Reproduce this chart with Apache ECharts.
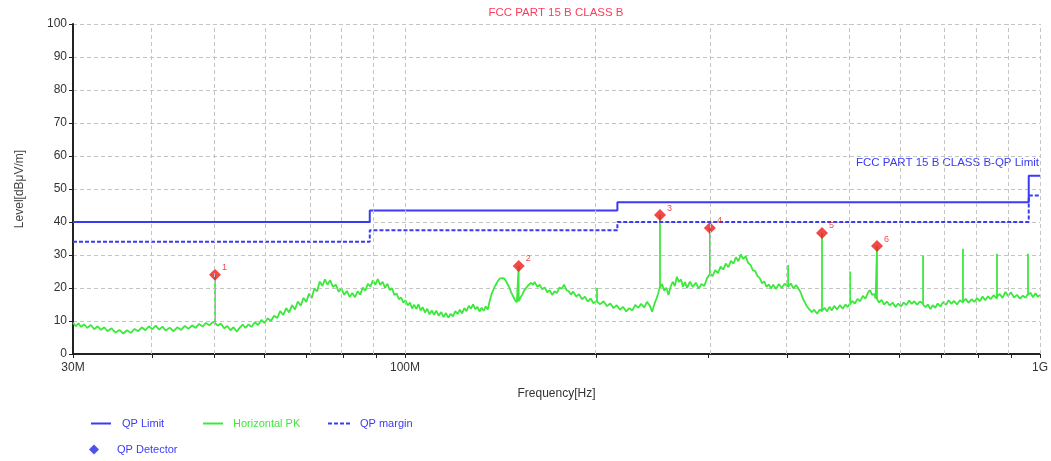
<!DOCTYPE html>
<html><head><meta charset="utf-8">
<script src="https://cdn.jsdelivr.net/npm/echarts@6/dist/echarts.min.js"></script>
<style>html,body{margin:0;padding:0;background:#fff}#c{width:1051px;height:461px}</style>
</head><body><div id="c"></div>
<script>
const titleText = 'FCC PART 15 B CLASS B';
const limitLabel = 'FCC PART 15 B CLASS B-QP Limit';
const xTickFreq = [30,40,50,60,70,80,90,100,200,300,400,500,600,700,800,900,1000];
const xLabelFreq = [30,100,1000];
const xLabelText = ['30M','100M','1G'];
const yMin = 0, yMax = 100, yStep = 10;
const limitFreq  = [30,88,88,216,216,960,960,1000];
const limitLevel = [40,40,43.5,43.5,46,46,54,54];
const marginLevel = [34,34,37.5,37.5,40,40,48,48];
const detectorFreq  = [50.2,151,252.1,302.1,453.6,553.7];
const detectorLevel = [24,26.7,42.1,38.2,36.7,32.7];
const detectorNo    = ['1','2','3','4','5','6'];
const pkTrace = [
[30,9.5],[30.3,8.4],[30.6,9.3],[30.9,8.2],[31.2,9.0],[31.6,7.9],[32,8.8],[32.4,7.5],[32.8,8.4],[33.2,7.3],[33.6,8.1],[34,6.9],[34.5,7.8],[35,6.5],[35.5,7.3],[36,6.2],[36.5,7.2],[37,6.4],[37.5,7.6],[38,6.9],[38.5,8.1],[39,7.2],[39.5,8.4],[40,7.5],[40.5,8.6],[41,7.4],[41.5,8.3],[42,7.1],[42.6,8.0],[43.2,6.9],[43.8,8.1],[44.4,7.3],[45,8.5],[45.6,7.6],[46.2,8.7],[46.8,7.9],[47.4,9.1],[48,8.3],[48.6,9.4],[49.2,8.7],[49.8,9.7],[50.2,9.4],[50.2,24],[50.2,9.4],[50.7,8.6],[51.3,9.2],[51.9,7.8],[52.5,8.5],[53.1,7.2],[53.7,8.1],[54.3,6.8],[54.9,7.9],[55.5,8.9],[56.1,7.9],[56.7,9.0],[57.3,8.2],[58,9.6],[58.7,8.8],[59.4,10.3],[60.1,9.4],[60.8,10.8],[61.5,10.0],[62.2,11.6],[62.9,10.9],[63.6,13.0],[64.3,11.8],[65,13.9],[65.7,12.6],[66.4,14.8],[67.1,13.5],[67.8,15.9],[68.5,14.6],[69.2,17.0],[69.9,15.8],[70.6,18.3],[71.3,17.0],[72,19.9],[72.7,19.0],[73.4,22.0],[74.1,20.6],[74.8,22.6],[75.5,21.0],[76.2,22.4],[77,20.3],[77.8,21.0],[78.6,18.9],[79.4,19.8],[80.2,17.9],[81,19.1],[81.8,17.3],[82.6,18.5],[83.4,17.2],[84.2,19.0],[85,18.0],[85.8,20.1],[86.6,19.2],[87.4,21.3],[88.2,20.4],[89,22.3],[89.8,21.0],[90.6,22.7],[91.4,20.9],[92.2,21.9],[93,20.1],[93.8,21.3],[94.6,19.4],[95.4,19.9],[96.2,17.9],[97,18.3],[97.8,16.6],[98.6,17.1],[99.4,15.6],[100.2,16.2],[101,14.7],[101.8,15.6],[102.6,13.8],[103.4,14.9],[104.2,13.6],[105,15.1],[105.8,13.2],[106.6,14.2],[107.5,12.6],[108.4,13.7],[109.3,12.0],[110.2,13.2],[111.1,11.9],[112,13.1],[113,11.6],[114,12.7],[115,11.2],[116,12.4],[117,11.0],[118,12.2],[119,11.4],[120,13.0],[121,12.1],[122,13.4],[123,12.3],[124,13.9],[125,13.0],[126,14.6],[127,13.8],[128,15.0],[129,13.6],[130,14.3],[131,12.9],[132,14.0],[133,13.1],[134,14.4],[135,13.5],[136,16.2],[137,18.4],[138,19.8],[139,21.0],[140,22.1],[141,22.9],[142,23.4],[143,23.0],[144,22.3],[145,21.2],[146,20.1],[147,18.6],[148,17.5],[149,16.3],[150,15.6],[151,16.0],[151,26.7],[151,16.0],[152,17.1],[153,18.0],[154,19.2],[155,19.6],[156,20.6],[157,20.1],[158,21.6],[159,20.9],[160,21.8],[161.5,20.4],[163,21.0],[164.5,19.6],[166,20.2],[167.5,18.7],[169,19.3],[170.5,17.9],[172,19.0],[173.5,18.5],[175,20.1],[176.5,19.8],[178,21.0],[179.5,19.4],[181,19.0],[182.5,18.0],[184,18.9],[186,17.4],[188,18.1],[190,16.6],[192,17.4],[194,15.9],[196,16.8],[198,15.4],[200.6,16.2],[200.6,20],[200.6,15.8],[203,15.1],[205.5,16.0],[208,14.5],[210.5,15.3],[213,13.9],[215.5,14.8],[218,13.4],[220.5,14.3],[223,12.9],[225.5,13.9],[228,13.2],[230.5,14.9],[233,14.0],[235.5,15.2],[238,14.1],[240.5,15.8],[243,14.6],[245,12.8],[247,15.1],[249,16.9],[250.5,18.4],[252.1,20.5],[252.1,42.1],[252.1,20.0],[254,21.2],[256,19.2],[258,20.1],[260,17.9],[262,20.4],[264,21.9],[266,20.6],[268,23.4],[270,21.8],[272,22.6],[274,20.4],[276,21.8],[278,20.0],[281,21.9],[284,20.3],[287,21.6],[290,19.8],[293,21.2],[296,20.6],[299,23.0],[302.1,24.2],[302.1,38.2],[302.1,24.5],[305,23.6],[308,25.4],[311,24.5],[314,26.5],[317,25.6],[320,27.4],[323,26.3],[326,28.2],[329,27.4],[332,29.3],[335,28.1],[338,30.2],[341,28.8],[344,29.6],[347,27.6],[350,27.0],[353,25.4],[356,25.1],[359,23.6],[362,23.0],[365,21.4],[368,22.0],[371,20.3],[374,21.1],[377,19.8],[380,21.0],[384,19.7],[388,21.2],[392,20.0],[396,21.3],[401.2,20.4],[401.2,27],[401.2,20.2],[405,21.4],[409,19.9],[413,20.9],[417,19.6],[420,18.6],[423,16.9],[426,15.8],[429.6,14.4],[433,13.6],[437,12.7],[441,13.4],[445.5,12.2],[450,13.5],[453.6,12.9],[453.6,36.7],[453.6,13.1],[458,14.0],[462,12.9],[466,14.3],[470,13.2],[474,14.6],[479,13.5],[484,14.8],[489,13.7],[494,15.0],[498,14.2],[502.2,15.4],[502.2,25],[502.2,15.0],[506,16.1],[511,15.3],[516,16.7],[521,16.0],[526,17.6],[531,16.8],[536,18.6],[540,19.4],[544,17.9],[548,18.2],[551,16.8],[553.7,17.2],[553.7,32.7],[553.7,16.6],[558,15.6],[563,16.4],[568,15.0],[574,15.9],[580,14.7],[586,15.6],[592,14.2],[598,15.3],[604,14.4],[610,15.6],[616,14.8],[622,16.2],[628,15.2],[634,16.0],[640,14.9],[647,15.9],[654.4,15.2],[654.4,29.8],[654.4,15.0],[660,14.2],[666,15.0],[672,13.6],[678,14.8],[684,14.0],[690,15.3],[697,14.4],[704,15.8],[711,14.9],[718,16.3],[725,15.2],[732,16.1],[740,15.0],[748,16.3],[756.3,15.6],[756.3,31.9],[756.3,15.9],[764,16.7],[772,15.5],[780,16.6],[788,15.8],[796,16.9],[804,16.0],[812,17.4],[820,16.3],[828,17.5],[836,16.6],[845,17.8],[855.6,16.8],[855.6,30.4],[855.6,17.3],[864,18.2],[873,17.0],[882,18.8],[891,17.6],[900,18.7],[910,17.1],[920,17.9],[930,16.8],[940,17.7],[949,17.0],[957.4,18.2],[957.4,30.4],[957.4,17.9],[966,18.6],[975,17.2],[984,18.4],[992,17.3],[1000,17.9]
];

const lg = Math.log10;
const BLUE = '#3b3bf5', GREEN = '#3de83d', RED = '#ee1c1c';
const FONT = '"Liberation Sans", Arial, sans-serif';
const SOLID_ICON = 'path://M0,0h20v2h-20z';
const DASH_ICON = 'path://M0,0h4v2h-4z M6,0h4v2h-4z M12,0h4v2h-4z M18,0h4v2h-4z';

const chart = echarts.init(document.getElementById('c'), null, {renderer: 'canvas'});
chart.setOption({
  animation: false,
  backgroundColor: '#fff',
  grid: {left: 73, right: 11, top: 24, bottom: 107, containLabel: false},
  graphic: [
    {type: 'text', x: 556, y: 7, style: {text: titleText, fill: '#ff3c5a', font: '11.5px ' + FONT, textAlign: 'center'}},
    {type: 'text', x: 1039, y: 157, style: {text: limitLabel, fill: BLUE, font: '11.5px ' + FONT, textAlign: 'right'}}
  ],
  xAxis: {
    type: 'value', min: lg(30), max: lg(1000),
    name: 'Frequency[Hz]', nameLocation: 'middle', nameGap: 34,
    nameTextStyle: {color: '#333', fontSize: 12, fontFamily: FONT},
    axisLine: {show: true, onZero: false, lineStyle: {color: '#222', width: 2}},
    axisTick: {show: true, customValues: xTickFreq.map(lg), length: 4, lineStyle: {color: '#222'}},
    axisLabel: {customValues: xLabelFreq.map(lg), color: '#333', fontSize: 12, fontFamily: FONT, margin: 8,
      formatter: v => { const f = Math.round(Math.pow(10, v)); const i = xLabelFreq.indexOf(f); return i >= 0 ? xLabelText[i] : ''; }},
    splitLine: {show: false}
  },
  yAxis: {
    type: 'value', min: yMin, max: yMax, interval: yStep,
    name: 'Level[dBμV/m]', nameLocation: 'middle', nameGap: 47,
    nameTextStyle: {color: '#444', fontSize: 12, fontFamily: FONT},
    axisLine: {show: true, lineStyle: {color: '#222', width: 2}},
    axisTick: {show: true, length: 4, lineStyle: {color: '#222'}},
    axisLabel: {color: '#333', fontSize: 12, fontFamily: FONT, margin: 6},
    splitLine: {show: true, lineStyle: {color: '#c4c4c4', type: [4, 3], width: 1}}
  },
  legend: [
    {left: 86, top: 413, itemWidth: 20, itemHeight: 2, data: [{name: 'QP Limit', icon: SOLID_ICON, itemStyle: {color: BLUE}, textStyle: {color: BLUE}}], textStyle: {fontSize: 11, fontFamily: FONT, padding: [0,0,0,6]}},
    {left: 198, top: 413, itemWidth: 26, itemHeight: 2, data: [{name: 'Horizontal PK', icon: SOLID_ICON, itemStyle: {color: GREEN}, textStyle: {color: GREEN}}], textStyle: {fontSize: 11, fontFamily: FONT, padding: [0,0,0,2]}},
    {left: 323, top: 413, itemWidth: 22, itemHeight: 2, data: [{name: 'QP margin', icon: DASH_ICON, itemStyle: {color: BLUE}, textStyle: {color: BLUE}}], textStyle: {fontSize: 11, fontFamily: FONT, padding: [0,0,0,5]}},
    {left: 84, top: 439, itemWidth: 10, itemHeight: 10, data: [{name: 'QP Detector', icon: 'diamond', itemStyle: {color: '#2424e6'}, textStyle: {color: BLUE}}], textStyle: {fontSize: 11, fontFamily: FONT, padding: [0,0,0,13]}}
  ],
  series: [
    {
      name: 'grid', type: 'line', data: [], z: 1, silent: true,
      markLine: {silent: true, symbol: 'none', label: {show: false}, animation: false,
        lineStyle: {color: '#c4c4c4', type: [4, 3], width: 1},
        data: xTickFreq.filter(f => f > 30).map(f => ({xAxis: lg(f)}))}
    },
    {
      name: 'Horizontal PK', type: 'line', z: 2, symbol: 'none',
      lineStyle: {color: GREEN, width: 1.8}, itemStyle: {color: GREEN},
      data: pkTrace.map(p => [lg(p[0]), p[1]])
    },
    {
      name: 'QP Limit', type: 'line', z: 3, symbol: 'none',
      lineStyle: {color: BLUE, width: 2}, itemStyle: {color: BLUE},
      data: limitFreq.map((f, i) => [lg(f), limitLevel[i]])
    },
    {
      name: 'QP margin', type: 'line', z: 3, symbol: 'none',
      lineStyle: {color: BLUE, width: 2, type: [4, 2]}, itemStyle: {color: BLUE},
      data: limitFreq.map((f, i) => [lg(f), marginLevel[i]])
    },
    {
      name: 'QP Detector', type: 'scatter', z: 4, symbol: 'diamond', symbolSize: 12,
      itemStyle: {color: RED},
      label: {show: true, position: 'right', distance: 1, offset: [0, -7], color: RED, fontSize: 9, fontFamily: FONT,
        formatter: p => detectorNo[p.dataIndex]},
      data: detectorFreq.map((f, i) => [lg(f), detectorLevel[i]])
    }
  ]
});
</script></body></html>
